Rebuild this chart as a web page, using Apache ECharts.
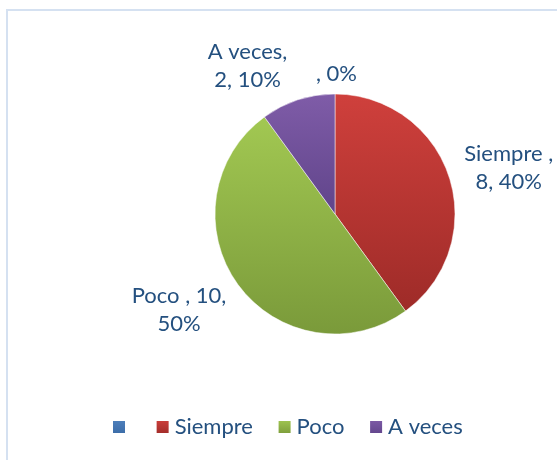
<!DOCTYPE html>
<html>
<head>
<meta charset="utf-8">
<script src="https://cdn.jsdelivr.net/npm/echarts@6/dist/echarts.min.js"></script>
<style>
  html, body { margin: 0; padding: 0; background: #fff; }
  #chart { width: 557px; height: 460px; }
</style>
</head>
<body>
<div id="chart"></div>
<script>
// categories as they appear in the sheet (first one is blank)
const categories = [' ', 'Siempre ', 'Poco ', 'A veces']
const values = [0, 8, 10, 2]
// Excel wrapped the data labels like this
const labelTexts = [', 0%', 'Siempre ,\n8, 40%', 'Poco , 10,\n50%', 'A veces,\n2, 10%']

const colorTop = ['#4F81BD', '#CF403C', '#A2C852', '#7F5CA8']
const colorBottom = ['#3A6BA6', '#9E2B28', '#7A9A3A', '#60448A']
// small shifts so the labels sit where Excel's "best fit" put them
const labelShift = [[27, -2], [-7, -3], [8, 15], [0, -17]]

const textColor = '#24507F'
const fontFamily = 'Lato, "Open Sans", sans-serif'

const chart = echarts.init(document.getElementById('chart'))

const option = {
  animation: false,
  graphic: [{
    type: 'rect',
    shape: { x: 7, y: 10, width: 600, height: 500 },
    style: { fill: 'none', stroke: '#D5E1F1', lineWidth: 2 },
    silent: true
  }],
  legend: {
    top: 411,
    left: 106,
    icon: 'rect',
    itemWidth: 14,
    itemHeight: 14,
    itemGap: 18,
    textStyle: { color: textColor, fontSize: 22, fontFamily: fontFamily },
    data: categories
  },
  series: [{
    type: 'pie',
    center: [335, 214],
    radius: 120,
    startAngle: 90,
    clockwise: true,
    avoidLabelOverlap: false,
    data: categories.map((name, i) => ({
      name: name,
      value: values[i],
      itemStyle: {
        color: new echarts.graphic.LinearGradient(0, 0, 0, 1, [
          { offset: 0, color: colorTop[i] },
          { offset: 1, color: colorBottom[i] }
        ])
      }
    })),
    itemStyle: { borderColor: '#fff', borderWidth: 0.5 },
    label: {
      show: true,
      position: 'outside',
      color: textColor,
      fontSize: 22,
      fontFamily: fontFamily,
      lineHeight: 28,
      formatter: (p) => labelTexts[p.dataIndex].split('\n').map(s => '{c|' + s + '}').join('\n'),
      rich: {
        c: { align: 'center', color: textColor, fontSize: 22, fontFamily: fontFamily, lineHeight: 28 }
      }
    },
    labelLine: { show: false, length: 18, length2: 0 },
    labelLayout: (params) => ({
      dx: labelShift[params.dataIndex][0],
      dy: labelShift[params.dataIndex][1]
    }),
    emphasis: { disabled: true }
  }]
}

chart.setOption(option)
</script>
</body>
</html>
